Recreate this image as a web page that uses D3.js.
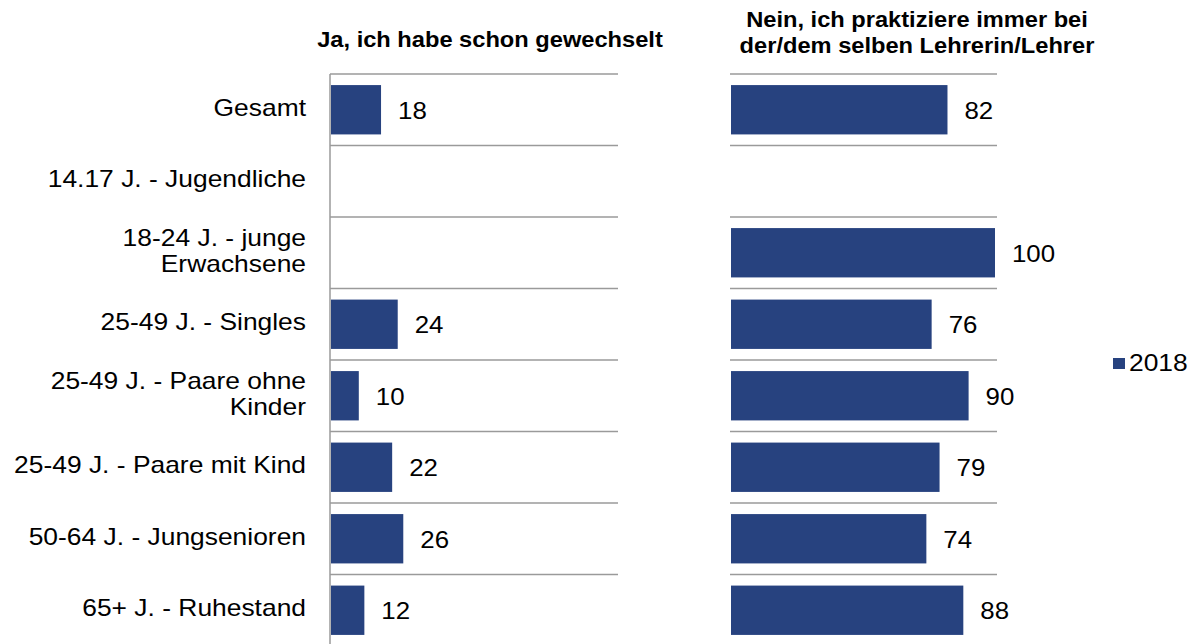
<!DOCTYPE html>
<html>
<head>
<meta charset="utf-8">
<script src="https://cdn.jsdelivr.net/npm/d3@7"></script>
<style>
  html, body { margin: 0; padding: 0; background: #fff; }
  svg { display: block; font-family: "Liberation Sans", Arial, sans-serif; }
</style>
</head>
<body>
<svg id="chart" width="1192" height="644"></svg>
<script>
const categories = [
  "Gesamt",
  "14.17 J. - Jugendliche",
  "18-24 J. - junge\nErwachsene",
  "25-49 J. - Singles",
  "25-49 J. - Paare ohne\nKinder",
  "25-49 J. - Paare mit Kind",
  "50-64 J. - Jungsenioren",
  "65+ J. - Ruhestand"
];
const jaValues   = [18, null, null, 24, 10, 22, 26, 12];
const neinValues = [82, null, 100, 76, 90, 79, 74, 88];
const panelTitles = [
  ["Ja, ich habe schon gewechselt"],
  ["Nein, ich praktiziere immer bei", "der/dem selben Lehrerin/Lehrer"]
];
const legendLabels = ["2018"];

const barColor = "#27427f";
const gridColor = "#9a9a9a";

const svg = d3.select("#chart");

// text drawn with a slight horizontal stretch, as in the reference
function stext(parent, x, y, size, anchor, weight, stretch) {
  return parent.append("text")
    .attr("transform", `translate(${x},${y}) scale(${stretch || 1.1},1)`)
    .attr("text-anchor", anchor || "start")
    .attr("font-size", size)
    .attr("font-weight", weight || "normal")
    .attr("fill", "#000");
}
function addLines(t, lines, lh) {
  lines.forEach((l, i) => {
    t.append("tspan").attr("x", 0).attr("y", i * lh).text(l);
  });
}

const y = d3.scaleBand()
  .domain(categories)
  .range([74, 646])
  .paddingInner(0.31)
  .paddingOuter(0.155);
const step = y.step();
const rowTop = c => y(c) - step * y.paddingInner() / 2;

const panels = [
  { values: jaValues,   x: d3.scaleLinear().domain([0, 100]).range([331, 609]), gx0: 330, gx1: 618, titleX: 490, titleY: 47 },
  { values: neinValues, x: d3.scaleLinear().domain([0, 100]).range([731, 995]), gx0: 730, gx1: 997, titleX: 917, titleY: 27 }
];

panels.forEach((p, pi) => {
  const g = svg.append("g");
  const bounds = categories.map(rowTop).concat([rowTop(categories[categories.length - 1]) + step]);
  g.selectAll("line.grid").data(bounds).enter().append("line")
    .attr("x1", p.gx0).attr("x2", p.gx1)
    .attr("y1", d => d).attr("y2", d => d)
    .attr("stroke", gridColor).attr("stroke-width", 1.5);

  const data = categories.map((c, i) => ({ c, v: p.values[i] })).filter(d => d.v != null);
  g.selectAll("rect").data(data).enter().append("rect")
    .attr("x", p.x(0))
    .attr("y", d => y(d.c))
    .attr("width", d => p.x(d.v) - p.x(0))
    .attr("height", y.bandwidth())
    .attr("fill", barColor);

  data.forEach(d => {
    stext(g, p.x(d.v) + 17, y(d.c) + y.bandwidth() / 2 + 9, 23.5).text(d.v);
  });

  addLines(stext(svg, p.titleX, p.titleY, 21.5, "middle", "bold"), panelTitles[pi], 26);
});

// left vertical axis line
svg.append("line")
  .attr("x1", 330).attr("x2", 330)
  .attr("y1", 74).attr("y2", 646)
  .attr("stroke", gridColor).attr("stroke-width", 1.5);

// category labels
categories.forEach(c => {
  const lines = c.split("\n");
  const cy = y(c) + y.bandwidth() / 2;
  const lh = 26.5;
  const first = cy + 6 - (lines.length - 1) * lh / 2;
  addLines(stext(svg, 306, first, 23, "end", "normal", 1.148), lines, lh);
});

// legend
const lg = svg.append("g");
lg.selectAll("rect").data(legendLabels).enter().append("rect")
  .attr("x", 1113).attr("y", 358).attr("width", 12).attr("height", 11)
  .attr("fill", barColor);
legendLabels.forEach(l => {
  stext(lg, 1129, 371, 24).text(l);
});
</script>
</body>
</html>
